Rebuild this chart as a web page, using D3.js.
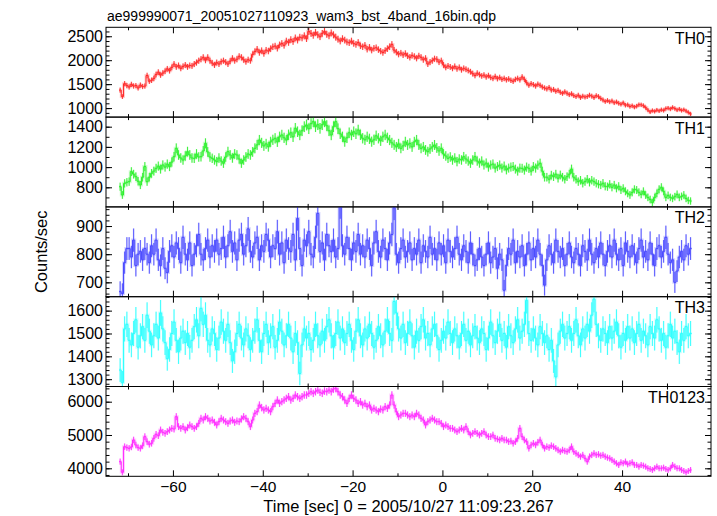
<!DOCTYPE html>
<html><head><meta charset="utf-8">
<script src="https://cdn.jsdelivr.net/npm/d3@7"></script>
<style>
body{margin:0;background:#fff}
svg{display:block}
text{font-family:"Liberation Sans",Arial,Helvetica,sans-serif;fill:#000}
</style>
</head><body>
<svg id="chart" width="717" height="516"></svg>
<script>
const plotTitle = "ae999990071_20051027110923_wam3_bst_4band_16bin.qdp";
const xTitle = "Time [sec] 0 = 2005/10/27 11:09:23.267";
const yTitle = "Counts/sec";
const bandNames = ["TH0", "TH1", "TH2", "TH3", "TH0123"];
const binWidth = 0.5;      // seconds per bin
const tStart = -71.75;     // centre of first bin (s)

const th0 = [
1375,1240,1510,1470,1440,1495,1460,1470,1420,1480,
1450,1460,1680,1560,1580,1620,1700,1750,1690,1730,
1770,1820,1780,1850,1920,1860,1890,1830,1870,1900,
1860,1890,1880,1920,1950,1990,2020,2060,2000,2060,
1990,1940,1900,1950,1920,1970,1990,1960,1920,1980,
2040,1990,2020,2080,2060,2010,1970,2010,1990,2120,
2180,2230,2160,2200,2140,2210,2190,2240,2280,2295,
2250,2320,2350,2310,2400,2370,2430,2390,2465,2420,
2480,2465,2510,2450,2600,2560,2520,2580,2530,2490,
2560,2600,2540,2510,2570,2530,2480,2440,2400,2450,
2420,2380,2365,2400,2350,2330,2370,2300,2280,2310,
2230,2270,2210,2250,2260,2220,2190,2160,2200,2240,
2280,2330,2210,2170,2125,2150,2110,2140,2090,2060,
2100,2080,2040,2090,2060,2010,2040,1920,1960,1990,
2030,2020,1960,1990,1900,1850,1880,1860,1830,1870,
1820,1850,1800,1830,1810,1785,1760,1720,1680,1730,
1700,1670,1690,1650,1680,1640,1620,1660,1614,1640,
1600,1620,1590,1610,1580,1560,1600,1620,1590,1650,
1600,1530,1477,1510,1490,1460,1500,1477,1440,1420,
1400,1430,1375,1390,1350,1370,1330,1307,1340,1310,
1280,1300,1260,1240,1270,1220,1250,1230,1240,1270,
1250,1220,1260,1240,1200,1170,1136,1160,1130,1150,
1110,1130,1100,1080,1110,1060,1070,1034,1050,1020,
1040,1070,1068,1050,1010,960,918,950,930,960,
940,966,950,990,1000,980,1014,990,960,980,
950,966,940,910,877];

const th1 = [
806,724,839,850,856,955,930,905,860,823,
900,1005,856,900,938,960,988,1010,980,1021,
1000,1030,1005,1050,1103,1186,1120,1090,1070,1110,
1153,1120,1090,1087,1130,1100,1103,1160,1235,1150,
1100,1087,1070,1054,1090,1060,1038,1100,1153,1120,
1090,1130,1120,1080,1038,1070,1100,1130,1120,1150,
1186,1220,1268,1240,1210,1230,1202,1250,1270,1285,
1250,1300,1318,1290,1268,1320,1340,1300,1384,1350,
1318,1360,1400,1417,1380,1430,1450,1400,1420,1384,
1420,1450,1410,1360,1318,1400,1450,1380,1330,1300,
1252,1290,1340,1318,1350,1330,1367,1320,1285,1270,
1300,1280,1252,1270,1310,1285,1260,1300,1318,1290,
1268,1240,1220,1200,1230,1186,1210,1250,1220,1235,
1200,1250,1268,1220,1186,1200,1170,1153,1180,1200,
1219,1190,1160,1186,1130,1110,1087,1100,1070,1090,
1054,1080,1070,1103,1080,1060,1038,1070,1103,1060,
1040,1060,1021,1040,1000,1021,1030,990,1005,1020,
990,1010,972,990,1000,1005,980,960,990,988,
970,1000,988,960,1005,990,1020,1038,960,900,
900,880,920,905,930,890,922,900,880,905,
930,980,900,880,856,870,840,856,880,850,
870,856,840,830,823,840,810,806,830,800,
823,790,810,773,790,760,740,724,750,780,
773,750,730,760,724,700,680,650,700,740,
780,800,760,700,720,700,690,707,730,700,
710,724,690,670,664];

const th2 = [
667,660,770,820,820,790,850,760,800,810,
780,820,800,770,830,800,850,780,760,820,
750,735,810,830,790,840,820,770,860,800,
780,840,760,800,830,870,800,780,820,850,
790,830,810,850,800,820,860,790,830,880,
810,840,780,850,870,800,830,890,810,790,
840,860,780,830,810,870,850,790,830,820,
880,800,840,770,850,820,810,870,780,927,
820,760,850,830,880,800,790,860,945,810,
840,780,870,830,810,850,790,820,970,830,
800,860,820,780,840,810,870,800,830,790,
850,820,760,840,880,810,790,850,820,780,
840,870,965,800,770,820,850,790,810,840,
780,820,800,850,770,830,810,790,860,800,
820,780,840,800,830,770,850,810,790,820,
860,800,780,830,810,770,840,800,760,780,
820,790,760,800,840,770,790,820,750,800,
780,672,760,820,800,850,770,810,790,830,
760,800,840,780,820,790,850,800,760,690,
780,830,800,770,850,810,790,820,760,800,
840,790,770,820,800,760,830,810,780,850,
800,770,820,790,840,800,760,810,830,790,
850,800,780,820,760,840,810,790,830,800,
770,820,850,790,810,780,840,800,760,820,
830,790,810,860,800,770,780,700,740,790,
810,780,830,800,820];

const th3 = [
1340,1285,1520,1540,1470,1450,1500,1560,1440,1490,
1530,1470,1580,1510,1450,1490,1540,1480,1590,1520,
1460,1390,1430,1500,1550,1470,1420,1480,1510,1460,
1500,1440,1470,1530,1560,1490,1610,1540,1580,1470,
1450,1520,1500,1430,1480,1550,1510,1470,1540,1460,
1380,1420,1500,1540,1480,1450,1520,1490,1430,1470,
1510,1560,1470,1420,1500,1540,1460,1490,1530,1440,
1470,1550,1510,1450,1490,1540,1480,1420,1500,1460,
1325,1450,1520,1480,1500,1430,1470,1540,1490,1450,
1510,1470,1530,1560,1490,1440,1500,1550,1480,1520,
1460,1500,1540,1470,1430,1510,1560,1490,1450,1520,
1480,1540,1500,1440,1470,1530,1490,1450,1510,1560,
1500,1470,1640,1590,1520,1480,1540,1460,1500,1550,
1490,1440,1510,1470,1530,1560,1480,1500,1450,1520,
1540,1490,1430,1470,1510,1480,1550,1500,1460,1520,
1490,1440,1500,1540,1470,1510,1450,1490,1530,1480,
1460,1520,1500,1430,1480,1550,1490,1460,1510,1540,
1470,1500,1440,1530,1490,1460,1520,1560,1480,1510,
1540,1645,1500,1470,1520,1480,1450,1530,1500,1460,
1490,1430,1470,1380,1310,1450,1510,1540,1480,1500,
1530,1470,1500,1560,1490,1450,1520,1480,1540,1510,
1580,1650,1540,1490,1470,1520,1500,1460,1530,1480,
1510,1550,1490,1440,1500,1470,1530,1480,1520,1460,
1500,1540,1470,1510,1490,1450,1530,1500,1480,1560,
1520,1470,1500,1440,1490,1540,1480,1510,1460,1420,
1500,1470,1530,1490,1500];

const th0123 = [
4200,3880,4650,4620,4600,4640,4850,4700,4620,4600,
4680,4950,4800,4720,4750,4900,5020,4980,5150,5080,
5050,5100,5150,5200,5180,5550,5250,5200,5250,5150,
5220,5300,5250,5200,5250,5350,5500,5450,5550,5500,
5420,5450,5380,5300,5400,5500,5450,5400,5350,5420,
5450,5380,5420,5400,5480,5550,5500,5400,5250,5450,
5650,5700,5900,5820,5750,5800,5750,5700,5850,5950,
6050,5950,6000,6050,6100,6150,6050,6100,6200,6150,
6100,6150,6200,6200,6250,6300,6250,6300,6350,6280,
6250,6320,6300,6350,6300,6380,6400,6300,6200,6150,
6050,5950,6100,6200,6100,6050,5950,6000,5900,5950,
5850,5900,5750,5800,5750,5700,5780,5750,5850,5800,
5900,6200,5900,5700,5550,5600,5650,5650,5600,5550,
5600,5550,5650,5600,5500,5450,5300,5400,5450,5500,
5450,5400,5400,5350,5250,5300,5250,5200,5200,5150,
5100,5150,5200,5150,5250,5100,5000,5050,5100,5050,
5000,5050,5100,5000,4950,4950,5000,4900,4880,4850,
4900,4850,4850,4800,4820,4750,4800,4900,5200,4950,
4850,4800,4600,4700,4750,4700,4780,4850,4700,4600,
4650,4620,4680,4650,4600,4550,4500,4550,4520,4500,
4550,4650,4500,4450,4400,4350,4400,4300,4200,4350,
4400,4450,4400,4420,4380,4400,4350,4320,4300,4250,
4200,4150,4100,4180,4150,4200,4120,4150,4180,4100,
4100,4050,4100,4080,4050,4000,3980,3950,4000,4050,
4000,4000,4020,3980,3950,4000,4100,4050,4000,4000,
3950,3920,3880,3920,3950];

const seriesValues = [th0, th1, th2, th3, th0123];
const seriesColors = ["#ff2a2a", "#2ef02e", "#4a4aff", "#2effff", "#ff2eff"];

const yDomains = [[812, 2687], [606, 1495], [649, 968], [1268, 1661], [3760, 6456]];
const yMajorTicks = [[1000, 1500, 2000, 2500], [800, 1000, 1200, 1400], [700, 800, 900], [1300, 1400, 1500, 1600], [4000, 5000, 6000]];
const yMinorStep = [100, 100, 20, 20, 200];
const xDomain = [-74.9, 59.8];
const xMajorTicks = [-60, -40, -20, 0, 20, 40];
const xMinorTicks = [-70, -50, -30, -10, 10, 30, 50];

// ---------- layout ----------
const plotLeft = 106, plotRight = 711, plotTop = 27.3, panelH = 89.8;
const svg = d3.select("#chart");
const x = d3.scaleLinear().domain(xDomain).range([plotLeft, plotRight]);

const defs = svg.append("defs");

seriesValues.forEach((vals, p) => {
  const y0 = plotTop + p * panelH, y1 = y0 + panelH;
  const y = d3.scaleLinear().domain(yDomains[p]).range([y1, y0]);
  const times = vals.map((_, i) => tStart + i * binWidth);
  const color = seriesColors[p];
  const err = v => Math.sqrt(v * binWidth) / binWidth;

  defs.append("clipPath").attr("id", "clip" + p)
    .append("rect").attr("x", plotLeft).attr("y", y0).attr("width", plotRight - plotLeft).attr("height", panelH);

  const g = svg.append("g").attr("clip-path", `url(#clip${p})`);

  const stepPts = [];
  vals.forEach((v, i) => {
    stepPts.push([times[i] - binWidth / 2, v]);
    stepPts.push([times[i] + binWidth / 2, v]);
  });
  const stepD = d3.line().x(d => x(d[0])).y(d => y(d[1]))(stepPts);

  // soft halo (antialiased look of the original)
  g.append("path").attr("d", stepD)
    .attr("fill", "none").attr("stroke", color).attr("stroke-width", 3).attr("stroke-opacity", 0.22);
  g.selectAll("line.errh").data(vals).join("line")
    .attr("class", "errh")
    .attr("x1", (d, i) => x(times[i])).attr("x2", (d, i) => x(times[i]))
    .attr("y1", d => y(d - err(d))).attr("y2", d => y(d + err(d)))
    .attr("stroke", color).attr("stroke-width", 1.8).attr("stroke-opacity", 0.18);

  // step line
  g.append("path").attr("d", stepD)
    .attr("fill", "none").attr("stroke", color).attr("stroke-width", 1);

  // Poisson error bars of each bin
  g.selectAll("line.err").data(vals).join("line")
    .attr("class", "err")
    .attr("x1", (d, i) => x(times[i])).attr("x2", (d, i) => x(times[i]))
    .attr("y1", d => y(d - err(d))).attr("y2", d => y(d + err(d)))
    .attr("stroke", color).attr("stroke-width", 0.9);

  // y axes (left with labels, right ticks only)
  const yMinor = d3.range(Math.ceil(yDomains[p][0] / yMinorStep[p]) * yMinorStep[p], yDomains[p][1], yMinorStep[p]);
  const axL = svg.append("g").attr("transform", `translate(${plotLeft},0)`)
    .call(d3.axisLeft(y).tickValues(yMajorTicks[p]).tickSize(-6).tickPadding(3).tickFormat(d3.format("d")));
  const axLm = svg.append("g").attr("transform", `translate(${plotLeft},0)`)
    .call(d3.axisLeft(y).tickValues(yMinor).tickSize(-3.5).tickFormat(""));
  const axR = svg.append("g").attr("transform", `translate(${plotRight},0)`)
    .call(d3.axisRight(y).tickValues(yMajorTicks[p]).tickSize(-6).tickFormat(""));
  const axRm = svg.append("g").attr("transform", `translate(${plotRight},0)`)
    .call(d3.axisRight(y).tickValues(yMinor).tickSize(-3.5).tickFormat(""));

  // x axes (top and bottom of each panel)
  const isLast = p === seriesValues.length - 1;
  const axB = svg.append("g").attr("transform", `translate(0,${y1})`)
    .call(d3.axisBottom(x).tickValues(xMajorTicks).tickSize(-6).tickPadding(5)
      .tickFormat(isLast ? d3.format("d") : ""));
  const axBm = svg.append("g").attr("transform", `translate(0,${y1})`)
    .call(d3.axisBottom(x).tickValues(xMinorTicks).tickSize(-3).tickFormat(""));
  const axT = svg.append("g").attr("transform", `translate(0,${y0})`)
    .call(d3.axisTop(x).tickValues(xMajorTicks).tickSize(-6).tickFormat(""));
  const axTm = svg.append("g").attr("transform", `translate(0,${y0})`)
    .call(d3.axisTop(x).tickValues(xMinorTicks).tickSize(-3).tickFormat(""));

  [axL, axLm, axR, axRm, axB, axBm, axT, axTm].forEach(a => {
    a.select(".domain").remove();
    a.attr("font-family", null).attr("font-size", null);
  });
  axL.selectAll("text").style("font-size", "16px");
  axB.selectAll("text").style("font-size", "15.5px");

  // frame
  svg.append("rect").attr("x", plotLeft).attr("y", y0).attr("width", plotRight - plotLeft).attr("height", panelH)
    .attr("fill", "none").attr("stroke", "#000").attr("stroke-width", 1);

  // band label
  svg.append("text").attr("x", 705).attr("y", y0 + 16.5)
    .attr("text-anchor", "end").style("font-size", "16px").text(bandNames[p]);
});

svg.append("text").attr("x", 107).attr("y", 20.5).style("font-size", "14px").text(plotTitle);
svg.append("text").attr("x", (plotLeft + plotRight) / 2).attr("y", 511.5).attr("text-anchor", "middle")
  .style("font-size", "16.5px").text(xTitle);
svg.append("text").attr("transform", `translate(47,${plotTop + 2.5 * panelH}) rotate(-90)`)
  .attr("text-anchor", "middle").style("font-size", "16.5px").text(yTitle);
</script>
</body></html>
